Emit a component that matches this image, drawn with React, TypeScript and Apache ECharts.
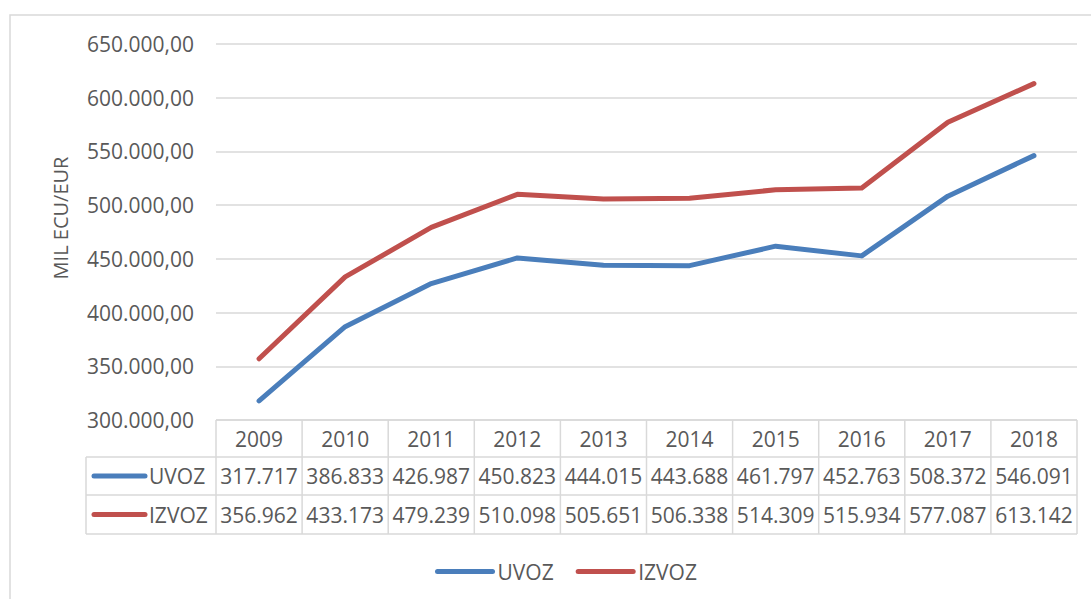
import React, { useEffect, useRef } from "react";
import * as echarts from "echarts";

const years = ["2009", "2010", "2011", "2012", "2013", "2014", "2015", "2016", "2017", "2018"];
const uvoz = [317717, 386833, 426987, 450823, 444015, 443688, 461797, 452763, 508372, 546091];
const izvoz = [356962, 433173, 479239, 510098, 505651, 506338, 514309, 515934, 577087, 613142];
const seriesNames = ["UVOZ", "IZVOZ"];
const yTitle = "MIL ECU/EUR";

const BLUE = "#4a7ebb";
const RED = "#c0504d";
const TXT = "#595959";
const BORDER = "#d9d9d9";
const FONT = "Open Sans";

function fmtThousands(v: number): string {
  return Math.round(v).toString().replace(/\B(?=(\d{3})+(?!\d))/g, ".");
}

export default function App() {
  const ref = useRef<HTMLDivElement>(null);
  useEffect(() => {
    if (!ref.current) return;
    const chart = echarts.init(ref.current, undefined, { renderer: "svg" });
    const gridLeft = 216;
    const gridRight = 14;
    const gridTop = 44;
    const gridBottomY = 420;
    chart.setOption({
      animation: false,
      textStyle: { fontFamily: FONT },
      grid: { left: gridLeft, right: gridRight, top: gridTop, bottom: 599 - gridBottomY },
      legend: {
        data: seriesNames,
        left: 430,
        top: 556,
        itemWidth: 55,
        itemHeight: 10,
        itemGap: 22,
        itemStyle: { opacity: 0 },
        lineStyle: { width: 5, cap: "round" },
        textStyle: { color: TXT, fontSize: 21, fontFamily: FONT },
      },
      xAxis: {
        type: "category",
        data: years,
        boundaryGap: true,
        axisLine: { show: false },
        axisTick: { show: false },
        axisLabel: { show: false },
      },
      yAxis: {
        type: "value",
        min: 300000,
        max: 650000,
        interval: 50000,
        axisLine: { show: false },
        axisTick: { show: false },
        splitLine: { lineStyle: { color: BORDER, width: 1.5 } },
        axisLabel: {
          color: TXT,
          fontSize: 21,
          fontFamily: FONT,
          margin: 22,
          formatter: (v: number) => fmtThousands(v) + ",00",
        },
      },
      series: [
        {
          name: seriesNames[0],
          type: "line",
          data: uvoz,
          symbol: "none",
          itemStyle: { color: BLUE },
          lineStyle: { color: BLUE, width: 5, cap: "round", join: "round" },
        },
        {
          name: seriesNames[1],
          type: "line",
          data: izvoz,
          symbol: "none",
          itemStyle: { color: RED },
          lineStyle: { color: RED, width: 5, cap: "round", join: "round" },
        },
      ],
    });

    // Build data table under plot using axis pixel positions
    const centers = years.map((_, i) => chart.convertToPixel({ xAxisIndex: 0 }, i) as number);
    const colW = centers.length > 1 ? centers[1] - centers[0] : 86;
    const tableLeft = centers[0] - colW / 2;
    const tableRight = centers[centers.length - 1] + colW / 2;
    const legendColLeft = 86;
    const rowTops = [gridBottomY, 457, 495, 534];
    const ls = { stroke: BORDER, lineWidth: 1.5 };
    const els: any[] = [];
    // outer chart border
    els.push({ type: "rect", shape: { x: 10, y: 15, width: 1200, height: 700 }, style: { fill: "none", stroke: BORDER, lineWidth: 1.5 }, silent: true, z: -10 });
    // horizontal lines
    els.push({ type: "line", shape: { x1: tableLeft, y1: rowTops[0], x2: tableRight, y2: rowTops[0] }, style: ls });
    for (let r = 1; r < rowTops.length; r++) {
      els.push({ type: "line", shape: { x1: legendColLeft, y1: rowTops[r], x2: tableRight, y2: rowTops[r] }, style: ls });
    }
    // vertical lines
    els.push({ type: "line", shape: { x1: legendColLeft, y1: rowTops[1], x2: legendColLeft, y2: rowTops[3] }, style: ls });
    for (let i = 0; i <= years.length; i++) {
      const x = tableLeft + i * colW;
      els.push({ type: "line", shape: { x1: x, y1: rowTops[0], x2: x, y2: rowTops[3] }, style: ls });
    }
    const txt = (x: number, y: number, s: string, align = "center") => ({
      type: "text",
      x,
      y,
      style: { text: s, fill: TXT, fontSize: 21, fontFamily: FONT, align, verticalAlign: "middle" },
    });
    years.forEach((yr, i) => {
      els.push(txt(centers[i], (rowTops[0] + rowTops[1]) / 2, yr));
      els.push(txt(centers[i], (rowTops[1] + rowTops[2]) / 2, fmtThousands(uvoz[i])));
      els.push(txt(centers[i], (rowTops[2] + rowTops[3]) / 2, fmtThousands(izvoz[i])));
    });
    const rowData = [
      { name: seriesNames[0], color: BLUE, y: (rowTops[1] + rowTops[2]) / 2 },
      { name: seriesNames[1], color: RED, y: (rowTops[2] + rowTops[3]) / 2 },
    ];
    rowData.forEach((r) => {
      els.push({ type: "line", shape: { x1: 94, y1: r.y, x2: 145, y2: r.y }, style: { stroke: r.color, lineWidth: 5, lineCap: "round" } });
      els.push({
        type: "text",
        x: 149,
        y: r.y,
        style: { text: r.name, fill: TXT, fontSize: 21, fontFamily: FONT, align: "left", verticalAlign: "middle" },
      });
    });
    // y axis title
    els.push({
      type: "text",
      x: 60,
      y: 218,
      rotation: Math.PI / 2,
      style: { text: yTitle, fill: TXT, fontSize: 20, fontFamily: FONT, align: "center", verticalAlign: "middle" },
    });
    chart.setOption({ graphic: { elements: els } });

    return () => chart.dispose();
  }, []);
  return <div ref={ref} style={{ position: "fixed", left: 0, top: 0, width: 1091, height: 599, background: "#fff" }} />;
}
